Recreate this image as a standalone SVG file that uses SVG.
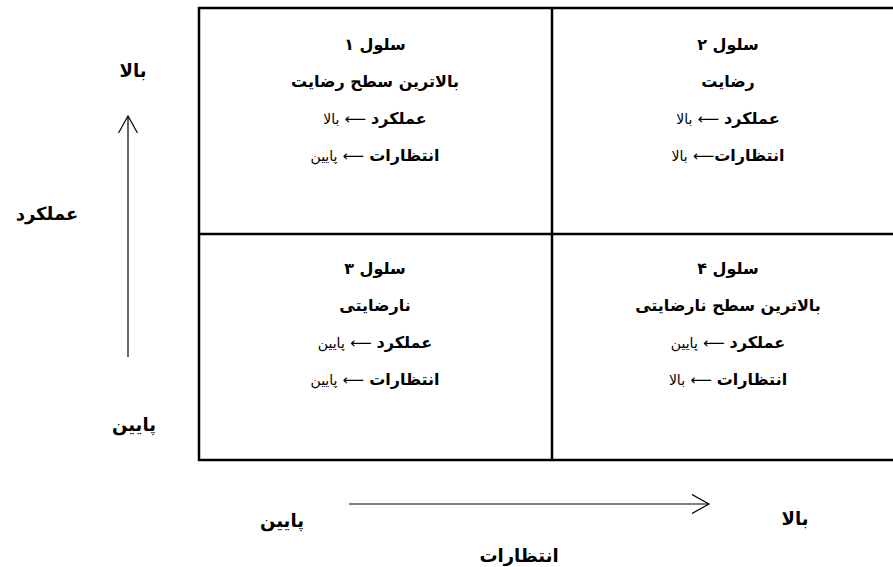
<svg xmlns="http://www.w3.org/2000/svg" width="893" height="567" viewBox="0 0 893 567">
<style>
text{font-family:"DejaVu Sans","Noto Sans",sans-serif;font-size:16px;fill:#000;text-anchor:middle;direction:rtl}
.b{font-weight:bold}
.r{font-weight:normal;font-size:14px}
.a{font-weight:normal;font-size:15px}
.lab{font-weight:bold;font-size:18px}
.grid{fill:none;stroke:#000;stroke-width:2.5}
.ax{stroke:#000;stroke-width:1.2;fill:none}
</style>
<defs>
<marker id="ah" markerWidth="20" markerHeight="22" refX="17" refY="10" orient="auto" markerUnits="userSpaceOnUse">
<path d="M0,0.5 L17,10 L0,19.5" fill="none" stroke="#000" stroke-width="1.2"/>
</marker>
</defs>
<g id="grid">
<rect class="grid" x="199" y="8" width="710" height="452"/>
<line class="grid" x1="552" y1="8" x2="552" y2="460"/>
<line class="grid" x1="199" y1="234" x2="909" y2="234"/>
</g>
<g id="cell1">
<text class="b" x="375" y="50">سلول ۱</text>
<text class="b" x="375" y="87">بالاترین سطح رضایت</text>
<text x="375" y="124"><tspan class="b">عملکرد</tspan> <tspan class="a">⟵</tspan> <tspan class="r">بالا</tspan></text>
<text x="375" y="161"><tspan class="b">انتظارات</tspan> <tspan class="a">⟵</tspan> <tspan class="r">پایین</tspan></text>
</g>
<g id="cell2">
<text class="b" x="728" y="50">سلول ۲</text>
<text class="b" x="728" y="87">رضایت</text>
<text x="728" y="124"><tspan class="b">عملکرد</tspan> <tspan class="a">⟵</tspan> <tspan class="r">بالا</tspan></text>
<text x="728" y="161"><tspan class="b">انتظارات</tspan><tspan class="a">⟵</tspan> <tspan class="r">بالا</tspan></text>
</g>
<g id="cell3">
<text class="b" x="375" y="274">سلول ۳</text>
<text class="b" x="375" y="311">نارضایتی</text>
<text x="375" y="348"><tspan class="b">عملکرد</tspan> <tspan class="a">⟵</tspan> <tspan class="r">پایین</tspan></text>
<text x="375" y="385"><tspan class="b">انتظارات</tspan> <tspan class="a">⟵</tspan> <tspan class="r">پایین</tspan></text>
</g>
<g id="cell4">
<text class="b" x="728" y="274">سلول ۴</text>
<text class="b" x="728" y="311">بالاترین سطح نارضایتی</text>
<text x="728" y="348"><tspan class="b">عملکرد</tspan> <tspan class="a">⟵</tspan> <tspan class="r">پایین</tspan></text>
<text x="728" y="385"><tspan class="b">انتظارات</tspan> <tspan class="a">⟵</tspan> <tspan class="r">بالا</tspan></text>
</g>
<g id="connectors">
<line class="ax" x1="128" y1="357" x2="128" y2="116" marker-end="url(#ah)"/>
<line class="ax" x1="349" y1="504" x2="709" y2="504" marker-end="url(#ah)"/>
</g>
<g id="labels">
<text class="lab" x="133" y="77">بالا</text>
<text class="lab" x="47" y="220">عملکرد</text>
<text class="lab" x="134" y="431">پایین</text>
<text class="lab" x="282" y="527">پایین</text>
<text class="lab" x="795" y="525">بالا</text>
<text class="lab" x="519" y="562">انتظارات</text>
</g>
</svg>
